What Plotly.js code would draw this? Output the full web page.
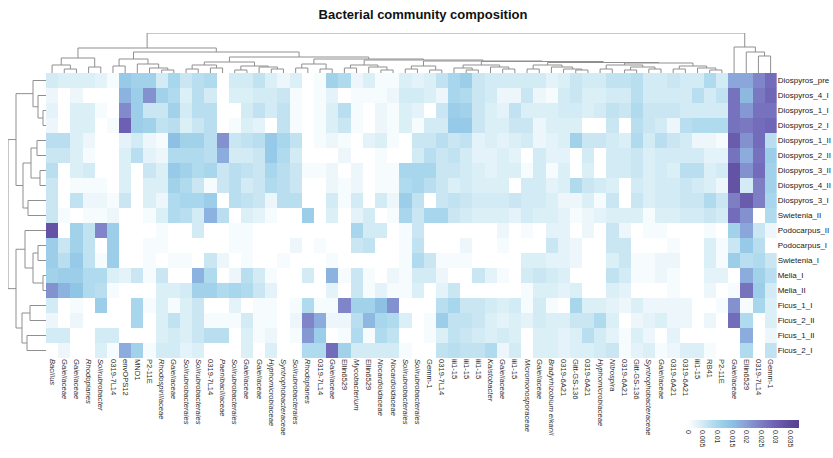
<!DOCTYPE html>
<html><head><meta charset="utf-8">
<script src="https://cdn.plot.ly/plotly-3.0.1.min.js"></script>
<style>html,body{margin:0;padding:0;background:#fff}#chart{width:833px;height:458px}</style>
</head><body><div id="chart"></div>
<script>
// ---------- DATA (relative abundance, in units of 0.001) ----------
const colLabels = ["Bacillus","Gaiellaceae","Gaiellaceae","Rhodoplanes","Solirubrobacter","0319-7L14","envOPS12","MND1","P2-11E","Rhodospirillaceae",
"Gaiellaceae","Solirubrobacterales","Solirubrobacterales","0319-7L14","Paenibacillaceae","Solirubrobacterales","Gaiellaceae","Gaiellaceae","Hyphomicrobiaceae","Syntrophobacteraceae",
"Solirubrobacterales","Rhodoplanes","0319-7L14","Gaiellaceae","Ellin6529","Mycobacterium","Ellin6529","Nocardioidaceae","Nocardioidaceae","Solirubrobacterales",
"Solirubrobacterales","Gemm-1","0319-7L14","iii1-15","iii1-15","iii1-15","Kaistobacter","Gaiellaceae","iii1-15","Micromonosporaceae",
"Gaiellaceae","Bradyrhizobium elkanii","0319-6A21","Gitt-GS-136","0319-6A21","Hyphomicrobiaceae","Nitrospira","0319-6A21","Gitt-GS-136","Syntrophobacteraceae",
"Gaiellaceae","0319-6A21","0319-6A21","iii1-15","RB41","P2-11E","Gaiellaceae","Ellin6529","0319-7L14","Gemm-1"];
const italicTaxa = ["Bacillus","Gaiellaceae","Rhodoplanes","Solirubrobacter","Rhodospirillaceae","Solirubrobacterales","Paenibacillaceae","Hyphomicrobiaceae","Syntrophobacteraceae","Mycobacterium","Nocardioidaceae","Kaistobacter","Micromonosporaceae","Bradyrhizobium elkanii","Nitrospira"];
const rowLabels = ["Diospyros_pre","Diospyros_4_I","Diospyros_1_I","Diospyros_2_I","Diospyros_1_II","Diospyros_2_II","Diospyros_3_II","Diospyros_4_II","Diospyros_3_I","Swietenia_II","Podocarpus_II","Podocarpus_I","Swietenia_I","Melia_I","Melia_II","Ficus_1_I","Ficus_2_II","Ficus_1_II","Ficus_2_I"];
const UNIT = 0.001;
const Diospyros_pre = [5,4,4,4,3,1,13,11,11,5,10,6,8,9,0, 5,5,7,4,2,4,0,1,11,9,2,4,1,1,4, 3,4,7,10,12,6,5,5,5,5,5,3,4,6,5, 5,7,7,8,5,5,6,5,5,9,5,19,19,24,28];
const Diospyros_4_I = [2,0,2,0,0,0,17,12,22,11,9,4,8,5,0, 4,4,5,5,6,1,0,1,3,0,1,1,1,2,5, 5,4,2,10,9,6,5,2,2,6,2,1,5,6,4, 4,5,5,8,5,5,5,5,8,5,7,27,16,26,29];
const Diospyros_1_I = [3,0,4,4,1,0,23,12,6,6,11,5,8,8,0, 0,5,7,5,7,1,0,1,4,8,1,0,2,1,4, 3,0,6,12,11,6,4,3,7,4,4,4,5,5,4, 5,7,6,9,6,6,6,5,5,5,5,27,21,27,27];
const Diospyros_2_I = [2,0,4,4,0,1,30,12,11,7,8,4,6,8,0, 1,4,3,0,7,1,0,1,4,6,1,0,2,1,4, 1,5,5,13,13,6,4,4,6,6,2,4,4,4,0, 0,6,0,8,6,5,2,8,9,9,9,27,26,28,29];
const Diospyros_1_II = [8,8,4,2,0,0,3,5,2,1,15,11,11,8,22, 6,7,8,13,10,7,0,1,2,1,0,3,4,1,0, 6,6,8,6,7,3,4,3,4,5,2,3,4,11,6, 6,5,4,9,5,8,6,5,2,2,1,31,22,28,8];
const Diospyros_2_II = [6,6,4,1,0,0,4,8,3,2,9,9,9,8,18, 5,5,6,13,9,5,0,0,0,2,0,0,1,0,0, 5,8,6,7,5,3,3,4,3,0,5,3,3,0,5, 0,5,5,6,4,5,5,5,5,3,3,27,18,27,12];
const Diospyros_3_II = [8,0,4,5,0,0,4,0,6,4,13,11,9,10,6, 8,7,6,10,8,6,1,1,2,0,2,0,1,1,10, 10,10,6,6,5,4,3,4,4,1,5,1,4,0,4, 0,5,5,6,4,5,4,8,8,4,5,33,22,28,11];
const Diospyros_4_II = [6,0,1,1,1,0,4,0,4,4,11,9,6,1,6, 8,5,6,9,8,6,0,0,2,1,2,0,1,1,9, 10,8,6,4,5,4,4,4,0,5,5,3,4,9,6, 5,4,0,5,4,5,5,6,5,4,2,33,5,25,11];
const Diospyros_3_I = [6,0,7,2,2,1,6,0,4,2,9,10,10,12,0, 8,7,6,2,8,8,0,0,5,1,5,0,5,2,12, 7,0,6,7,6,5,5,5,6,5,5,4,2,2,4, 1,6,0,6,4,5,5,6,6,9,6,25,31,25,10];
const Swietenia_II = [6,1,0,1,1,2,0,0,1,4,9,8,5,17,8, 0,4,3,1,0,0,12,0,4,0,3,5,0,1,10, 6,10,10,6,5,4,4,4,3,5,4,4,3,1,2, 3,4,4,4,1,4,4,5,5,6,5,28,22,0,9];
const Podocarpus_II = [33,0,11,7,24,12,0,0,0,1,0,0,5,0,0, 1,1,0,0,0,0,0,0,0,0,10,5,5,0,1, 6,0,0,0,0,0,0,2,0,1,0,3,3,0,2, 0,6,2,0,1,1,0,0,0,1,0,11,19,6,2];
const Podocarpus_I = [12,6,11,7,0,12,0,0,1,1,0,0,0,0,0, 1,1,0,0,0,2,0,1,0,0,6,7,0,0,1, 7,0,0,0,2,0,0,1,0,0,0,6,3,2,0, 0,6,6,0,0,0,1,0,0,4,1,6,13,8,0];
const Swietenia_I = [12,8,13,7,1,12,0,0,1,0,1,1,0,6,2, 0,1,0,0,1,0,0,0,1,0,0,0,0,0,1, 9,6,1,1,1,0,0,0,0,4,4,3,3,2,0, 0,4,6,1,1,2,2,0,0,4,1,12,8,9,6];
const Melia_I = [11,12,12,9,9,4,3,6,1,6,0,0,17,9,0, 2,8,5,1,0,0,5,0,17,1,6,1,0,2,1, 5,5,2,0,0,6,3,1,0,5,6,5,4,0,0, 0,7,5,1,1,2,1,0,0,3,3,0,18,11,8];
const Melia_II = [22,17,14,9,8,1,0,0,0,4,4,5,11,11,9, 10,9,6,3,0,0,0,0,3,0,6,1,3,1,1, 4,0,3,6,0,0,0,0,0,1,4,4,3,4,0, 0,4,3,0,0,0,1,0,0,2,0,1,27,12,5];
const Ficus_1_I = [5,0,1,0,12,0,0,10,1,4,1,4,6,0,0, 3,0,1,1,0,1,9,1,1,24,11,11,15,22,0, 0,0,8,10,6,6,5,4,5,1,5,1,0,10,4, 4,3,2,4,2,2,2,2,0,0,1,22,1,10,4];
const Ficus_2_II = [2,0,2,0,0,0,0,10,0,4,7,4,6,1,1, 1,5,1,1,0,2,24,18,2,2,8,16,10,9,4, 0,1,12,7,7,6,4,3,4,3,5,4,4,6,6, 9,4,0,2,3,4,2,2,0,2,0,28,9,0,4];
const Ficus_1_II = [5,5,0,0,5,5,0,0,0,4,5,4,6,8,8, 0,4,1,2,0,1,21,12,0,1,9,1,9,7,0, 0,1,4,7,6,5,4,5,4,0,4,4,3,4,8, 5,3,1,4,2,0,3,0,0,0,0,0,18,0,2];
const Ficus_2_I = [0,2,0,0,4,1,18,11,1,5,5,3,4,0,0, 0,4,0,4,0,0,9,9,28,11,5,5,5,5,1, 0,0,7,8,7,7,9,2,5,0,4,4,3,4,4, 5,6,1,3,4,1,2,4,4,1,0,0,9,0,7];
const colorTicks = [0,0.005,0.01,0.015,0.02,0.025,0.03,0.035];
const colorTickText = ["0","0.005","0.01","0.015","0.02","0.025","0.03","0.035"];
// dendrogram topology: [left, right, height]; leaves are row / column indices
const rowTree = [
  [[0,[1,[2,3,3],8],13], [[[4,5,9],[6,7,6],15],[8,9,18],23], 30],
  [[10,[[11,12,8],[13,14,3],13],21], [[15,16,16],[17,18,19],24], 30],
  38];
const colA = [[0,[1,2,4],8],[3,4,6],15];
const colBleft = [[5,6,7],[7,[8,[9,10,3],5],9],14];
const colN217 = [[[11,12,4],[13,14,5],8],[[15,16,3],[17,[18,19,4],6],7],11];
const colN313 = [[20,21,5],[22,23,4],9];
const colG1 = [[24,25,5],[26,[27,28,3],6],8];
const colG2 = [[29,30,4],[31,32,3],7];
const colG3 = [[33,[34,35,3],5],[36,[37,38,4],6],8];
const colG4 = [[39,40,4],[41,[42,[43,44,3],4],6],8];
const colG5 = [[45,46,4],[[47,48,3],[49,50,4],6],8];
const colG6 = [[51,52,4],[53,[54,55,3],5],7];
const colRight = [56,[57,[58,59,17],21],26];
// ---------------------------------------------------------------
const colLadder = [colG1,[colG2,[colG3,[colG4,[colG5,colG6,10],10.5],11.5],12],13];
const colTree = [[colA,[colBleft,[colN217,[colN313,colLadder,14],16],21],25], colRight, 40];

const rows = [Diospyros_pre,Diospyros_4_I,Diospyros_1_I,Diospyros_2_I,Diospyros_1_II,Diospyros_2_II,Diospyros_3_II,Diospyros_4_II,Diospyros_3_I,Swietenia_II,Podocarpus_II,Podocarpus_I,Swietenia_I,Melia_I,Melia_II,Ficus_1_I,Ficus_2_II,Ficus_1_II,Ficus_2_I];
const z = rows.map(r => r.map(v => v * UNIT));
const nC = colLabels.length, nR = rowLabels.length;

function dendroSegs(tree){
  const P = [], H = [];
  function walk(node){
    if (typeof node === 'number') return {p: node, h: 0};
    const a = walk(node[0]), b = walk(node[1]), h = node[2];
    P.push(a.p, a.p, b.p, b.p, null);
    H.push(a.h, h, h, b.h, null);
    return {p: (a.p + b.p) / 2, h: h};
  }
  walk(tree);
  return {P, H};
}

const W = 833, Hh = 458;
const hmL = 46, hmR = 776.7, hmT = 73, hmB = 358;
const px = v => v / W, py = v => 1 - v / Hh;

const font = 'Arial, "Liberation Sans", Helvetica, sans-serif';
const tickText = colLabels.map(s => italicTaxa.includes(s) ? '<i>' + s + '</i>' : s);

const heat = {
  type: 'heatmap', z: z,
  x: colLabels.map((_, i) => i), y: rowLabels.map((_, i) => i),
  zmin: 0, zmax: 0.038,
  colorscale: [[0,'#ffffff'],[0.05,'#eef7fb'],[0.13,'#d3ebf5'],[0.26,'#a9d6ec'],[0.37,'#8fc6e6'],[0.5,'#8aa6da'],[0.63,'#8084c8'],[0.78,'#6e62b4'],[0.92,'#5e4a9a'],[1,'#58428f']],
  xaxis: 'x', yaxis: 'y', hoverinfo: 'skip',
  colorbar: {orientation: 'h', x: px(688), xanchor: 'left', y: py(420), yanchor: 'top',
    len: 111, lenmode: 'pixels', thickness: 8, outlinewidth: 0, xpad: 0, ypad: 0,
    tickvals: colorTicks, ticktext: colorTickText, tickangle: 90, ticks: '',
    tickfont: {family: font, size: 7, color: '#333'}}
};
const cd = dendroSegs(colTree);
const rd = dendroSegs(rowTree);
const lineStyle = {color: '#8f8f8f', width: 1};
const topDen = {type: 'scatter', mode: 'lines', x: cd.P, y: cd.H, xaxis: 'x2', yaxis: 'y2', line: lineStyle, hoverinfo: 'skip', showlegend: false};
const leftDen = {type: 'scatter', mode: 'lines', x: rd.H, y: rd.P, xaxis: 'x3', yaxis: 'y3', line: lineStyle, hoverinfo: 'skip', showlegend: false};

const layout = {
  width: W, height: Hh, margin: {l: 0, r: 0, t: 0, b: 0},
  paper_bgcolor: '#fff', plot_bgcolor: '#fff', showlegend: false,
  font: {family: font, color: '#222'},
  title: {text: '<b>Bacterial community composition</b>', x: 423 / W, xanchor: 'center', y: py(14), yanchor: 'middle',
          font: {family: font, size: 13, color: '#111'}},
  xaxis: {domain: [px(hmL), px(hmR)], range: [-0.5, nC - 0.5], tickvals: colLabels.map((_, i) => i), ticktext: tickText,
          tickangle: 90, ticks: '', ticklen: 0, showgrid: false, zeroline: false, showline: false, automargin: false,
          tickfont: {family: font, size: 7.6, color: '#2a2a2a'}, anchor: 'y'},
  yaxis: {domain: [py(hmB), py(hmT)], range: [nR - 0.5, -0.5], side: 'right', tickvals: rowLabels.map((_, i) => i), ticktext: rowLabels,
          ticks: '', ticklen: 0, ticklabelstandoff: 0, showgrid: false, zeroline: false, showline: false, automargin: false,
          tickfont: {family: font, size: 8, color: '#1a1a1a'}, anchor: 'x'},
  xaxis2: {domain: [px(hmL), px(hmR)], range: [-0.5, nC - 0.5], visible: false, anchor: 'y2', fixedrange: true},
  yaxis2: {domain: [py(hmT), py(33)], range: [0, 40], visible: false, anchor: 'x2', fixedrange: true},
  xaxis3: {domain: [px(8), px(hmL)], range: [38, 0], visible: false, anchor: 'y3', fixedrange: true},
  yaxis3: {domain: [py(hmB), py(hmT)], range: [nR - 0.5, -0.5], visible: false, anchor: 'x3', fixedrange: true}
};
Plotly.newPlot('chart', [heat, topDen, leftDen], layout, {displayModeBar: false, staticPlot: true});
</script></body></html>
